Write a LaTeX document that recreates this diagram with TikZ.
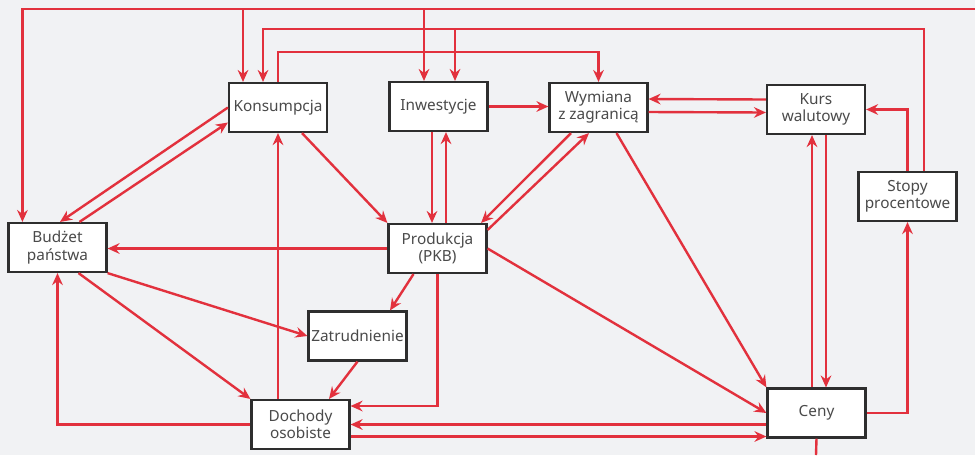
\documentclass[tikz,border=0pt]{standalone}
\usepackage{fontspec}
\setmainfont{Noto Sans}
\usetikzlibrary{arrows.meta,calc}
\definecolor{bg}{HTML}{F1F2F4}
\definecolor{lred}{HTML}{E2313D}
\definecolor{ink}{HTML}{2E2E2E}
\definecolor{txt}{HTML}{4A4A4A}
\begin{document}
\begin{tikzpicture}[x=0.75pt,y=-0.75pt,
  box/.style={rectangle,draw=ink,line width=1.6pt,fill=white,text=txt,minimum width=73.5pt,minimum height=36.75pt,inner sep=1pt,align=center,font=\fontsize{11.5}{13}\selectfont},
  link/.style={draw=lred,line width=1.8pt,-{Stealth[length=9pt,width=8pt,inset=3pt]}},
  wire/.style={draw=lred,line width=1.8pt}]
\fill[bg] (0,0) rectangle (975,455);
\useasboundingbox (0,0) rectangle (975,455);
\node[box] (kons) at (278,107.5) {Konsumpcja};
\node[box] (inw) at (438.5,106.5) {Inwestycje};
\node[box] (wym) at (598.5,107.5) {Wymiana\\z zagranicą};
\node[box] (kurs) at (816,109.5) {Kurs\\walutowy};
\node[box] (stopy) at (907.5,196.5) {Stopy\\procentowe};
\node[box] (bud) at (57.5,247.5) {Budżet\\państwa};
\node[box] (prod) at (437.5,248.5) {Produkcja\\(PKB)};
\node[box] (zatr) at (357.5,336) {Zatrudnienie};
\node[box] (doch) at (300.5,424.5) {Dochody\\osobiste};
\node[box] (ceny) at (816.5,413) {Ceny};
\coordinate (offR) at (975,9);
\coordinate (offB) at (816,455);
\path ($(kons.north)+(-35,0)$) coordinate (k1) ($(kons.north)+(-15,0)$) coordinate (k2)
  ($(inw.north)+(-14.5,0)$) coordinate (i1) ($(inw.north)+(16.5,0)$) coordinate (i2)
  ($(stopy.north)+(16.5,0)$) coordinate (s1) ($(k2)+(0,-53)$) coordinate (r2);
\draw[wire] (ceny.south) -- (offB);
\draw[link] (offR) -| ($(bud.north west)+(15,0)$);
\draw[link] (k1 |- offR) -- (k1);
\draw[link] (i1 |- offR) -- (i1);
\draw[link] (s1) |- (r2) -- (k2);
\draw[link] (i2 |- r2) -- (i2);
\draw[link] (kons.north) -- ++(0,-30) -| (wym.north);
\draw[link] (stopy.north) |- (kurs.east);
\draw[link] (ceny.east) -| (stopy.south);
\draw[link] (kons.west) -- ($(bud.north)+(2.5,0)$);
\draw[link] ($(bud.north)+(22,0)$) -- ($(kons.west)+(0,15)$);
\draw[link] ($(kons.south)+(24,0)$) -- (prod.north west);
\draw[link] (kons.south |- doch.north) -- (kons.south);
\draw[link] (inw.east) -- (inw.east -| wym.west);
\draw[link] ($(inw.south)+(-6.5,0)$) -- ($(prod.north)+(-5.5,0)$);
\draw[link] ($(prod.north)+(8.5,0)$) -- ($(inw.south)+(7.5,0)$);
\draw[link] ($(kurs.west)+(0,-10)$) -- ($(wym.east)+(0,-8.5)$);
\draw[link] ($(wym.east)+(0,4.5)$) -- ($(kurs.west)+(0,3)$);
\draw[link] ($(wym.south)+(-27.5,0)$) -- ($(prod.north east)+(-6.5,0)$);
\draw[link] ($(prod.north east)+(0,7)$) -- ($(wym.south)+(-9.5,0)$);
\draw[link] ($(wym.south)+(18,0)$) -- (ceny.north west);
\draw[link] ($(ceny.north)+(-4.5,0)$) -- ($(kurs.south)+(-4,0)$);
\draw[link] ($(kurs.south)+(10,0)$) -- ($(ceny.north)+(9.5,0)$);
\draw[link] (prod.west) -- (prod.west -| bud.east);
\draw[link] ($(prod.south)+(-24,0)$) -- ($(zatr.north)+(32.5,0)$);
\draw[link] (prod.south) |- ($(doch.east)+(0,-18.5)$);
\draw[link] (prod.east) -- (ceny.west);
\draw[link] (bud.south east) -- (zatr.west);
\draw[link] ($(bud.south)+(21,0)$) -- (doch.north west);
\draw[link] (doch.west) -| (bud.south);
\draw[link] (zatr.south) -- ($(doch.north)+(28.5,0)$);
\draw[link] (ceny.west |- doch.east) -- (doch.east);
\draw[link] ($(doch.east)+(0,12)$) coordinate (d1) -- (ceny.west |- d1);
\end{tikzpicture}
\end{document}
